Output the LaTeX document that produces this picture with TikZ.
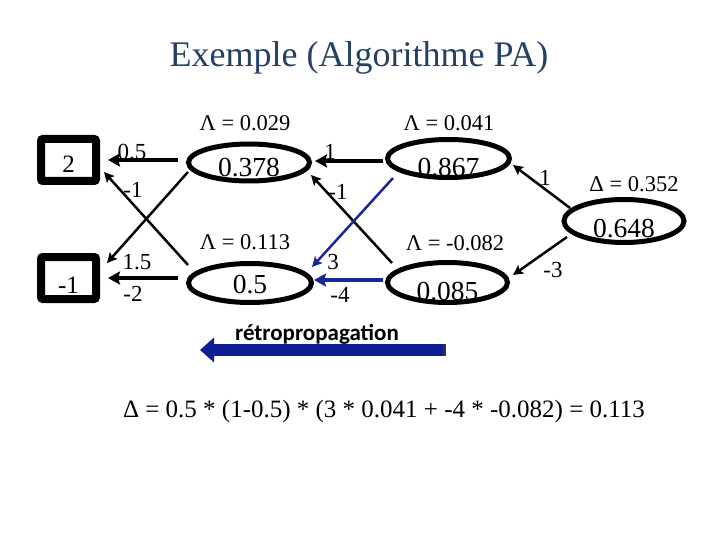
\documentclass[tikz,border=0pt]{standalone}
\usepackage{fontspec}
\setmainfont{Liberation Serif}
\newfontfamily\calfont{Carlito}
\usetikzlibrary{shapes.geometric,arrows.meta,calc}
\definecolor{titlecol}{RGB}{36,64,98}
\definecolor{netblue}{RGB}{25,40,150}
\definecolor{retroblue}{RGB}{15,30,150}
\newcommand\lowtxt[2]{\raisebox{-#1pt}[0pt][0pt]{#2}}
\begin{document}
\begin{tikzpicture}[x=1pt,y=-1pt,
  ell/.style={ellipse,draw,line width=5pt,inner sep=0pt,font=\fontsize{27.5}{27.5}\selectfont},
  inbox/.style={rectangle,draw,line width=8pt,rounded corners=2pt,minimum width=55pt,minimum height=42pt,inner sep=0pt,font=\fontsize{25}{25}\selectfont},
  dlab/.style={font=\fontsize{22.5}{22.5}\selectfont,anchor=base},
  wlab/.style={font=\fontsize{23}{23}\selectfont,inner sep=0pt},
  thickarr/.style={-{Stealth[length=12pt,width=13pt,inset=2pt]},line width=4pt},
  thinarr/.style={-{Stealth[length=10pt,width=10pt,inset=2pt]},line width=2.5pt},
]
\useasboundingbox (0,0) rectangle (720,540);

% title
\node[font=\fontsize{36}{36}\selectfont,text=titlecol,anchor=base] (title) at (359,67) {Exemple (Algorithme PA)};

% input boxes
\node[inbox] (b2) at (68.5,160) {\lowtxt{13}{2}};
\node[inbox] (bm1) at (68.5,278) {\lowtxt{15}{-1}};

% neurons
\node[ell,minimum width=121pt,minimum height=37pt] (h1) at (249,162.5) {\lowtxt{14.5}{0.378}};
\node[ell,minimum width=123pt,minimum height=39pt] (h2) at (250,283) {\lowtxt{10}{0.5}};
\node[ell,minimum width=122pt,minimum height=38pt] (h3) at (448.5,158.5) {\lowtxt{18.5}{0.867}};
\node[ell,minimum width=120pt,minimum height=40pt] (h4) at (447.5,282.5) {\lowtxt{17.5}{0.085}};
\node[ell,minimum width=120pt,minimum height=43pt] (o) at (624,221) {\lowtxt{17}{0.648}};

% delta labels
\node[dlab] (d1) at (245,131) {Λ = 0.029};
\node[dlab] (d2) at (245,249) {Λ = 0.113};
\node[dlab] (d3) at (449,131) {Λ = 0.041};
\node[dlab] (d4) at (455,251) {Λ = -0.082};
\node[dlab] (d5) at (634,192) {Δ = 0.352};

% connectors
\draw[thickarr] ($(h1)+(-71,-2.5)$) -- ($(b2)+(39.5,0)$);
\draw[thickarr] ($(h2)+(-72,-5)$) -- ($(bm1)+(39.5,0)$);
\draw[thinarr] ($(h1)+(-61,9.5)$) -- ($(bm1)+(38.5,-15)$);
\draw[thinarr] ($(h2)+(-62,-18)$) -- ($(b2)+(35.5,12)$);
\draw[thickarr] ($(h3)+(-65.5,2.5)$) -- ($(h1)+(66,-1.5)$);
\draw[thinarr] ($(h4)+(-55.5,-19.5)$) -- ($(h1)+(62,12.5)$);
\draw[thinarr,netblue] ($(h3)+(-55.5,19.5)$) -- ($(h2)+(62,-16)$);
\draw[thickarr,netblue,line width=3.5pt] ($(h4)+(-64.5,-2.5)$) -- ($(h2)+(64,-3)$);
\draw[thinarr] ($(o)+(-54,-13)$) -- ($(h3)+(64.5,6.5)$);
\draw[thinarr] ($(o)+(-57,16)$) -- ($(h4)+(65.5,-7.5)$);

% weights
\node[wlab] (w1) at (132,152) {0.5};
\node[wlab] (w2) at (133,190) {-1};
\node[wlab] (w3) at (137,262) {1.5};
\node[wlab] (w4) at (133,294) {-2};
\node[wlab] (w5) at (330,152) {1};
\node[wlab] (w6) at (338,192) {-1};
\node[wlab] (w7) at (333,262) {3};
\node[wlab] (w8) at (340,295) {-4};
\node[wlab] (w9) at (545,178) {1};
\node[wlab] (w10) at (553,270) {-3};

% backpropagation arrow
\coordinate (rs) at (446,350);
\coordinate (re) at (200,350);
\draw[retroblue,line width=12pt,-{Triangle[length=14pt,width=24pt]}] (rs) -- (re);
\fill[black!80] (443,344) rectangle (446,356);
\node[font=\calfont\bfseries\fontsize{23}{23}\selectfont,anchor=base] (retro) at (317,340) {rétropropagation};

% formula
\node[font=\fontsize{25}{25}\selectfont,anchor=base] (eq) at (384,417) {Δ = 0.5 * (1-0.5) * (3 * 0.041 + -4 * -0.082) = 0.113};
\end{tikzpicture}
\end{document}
